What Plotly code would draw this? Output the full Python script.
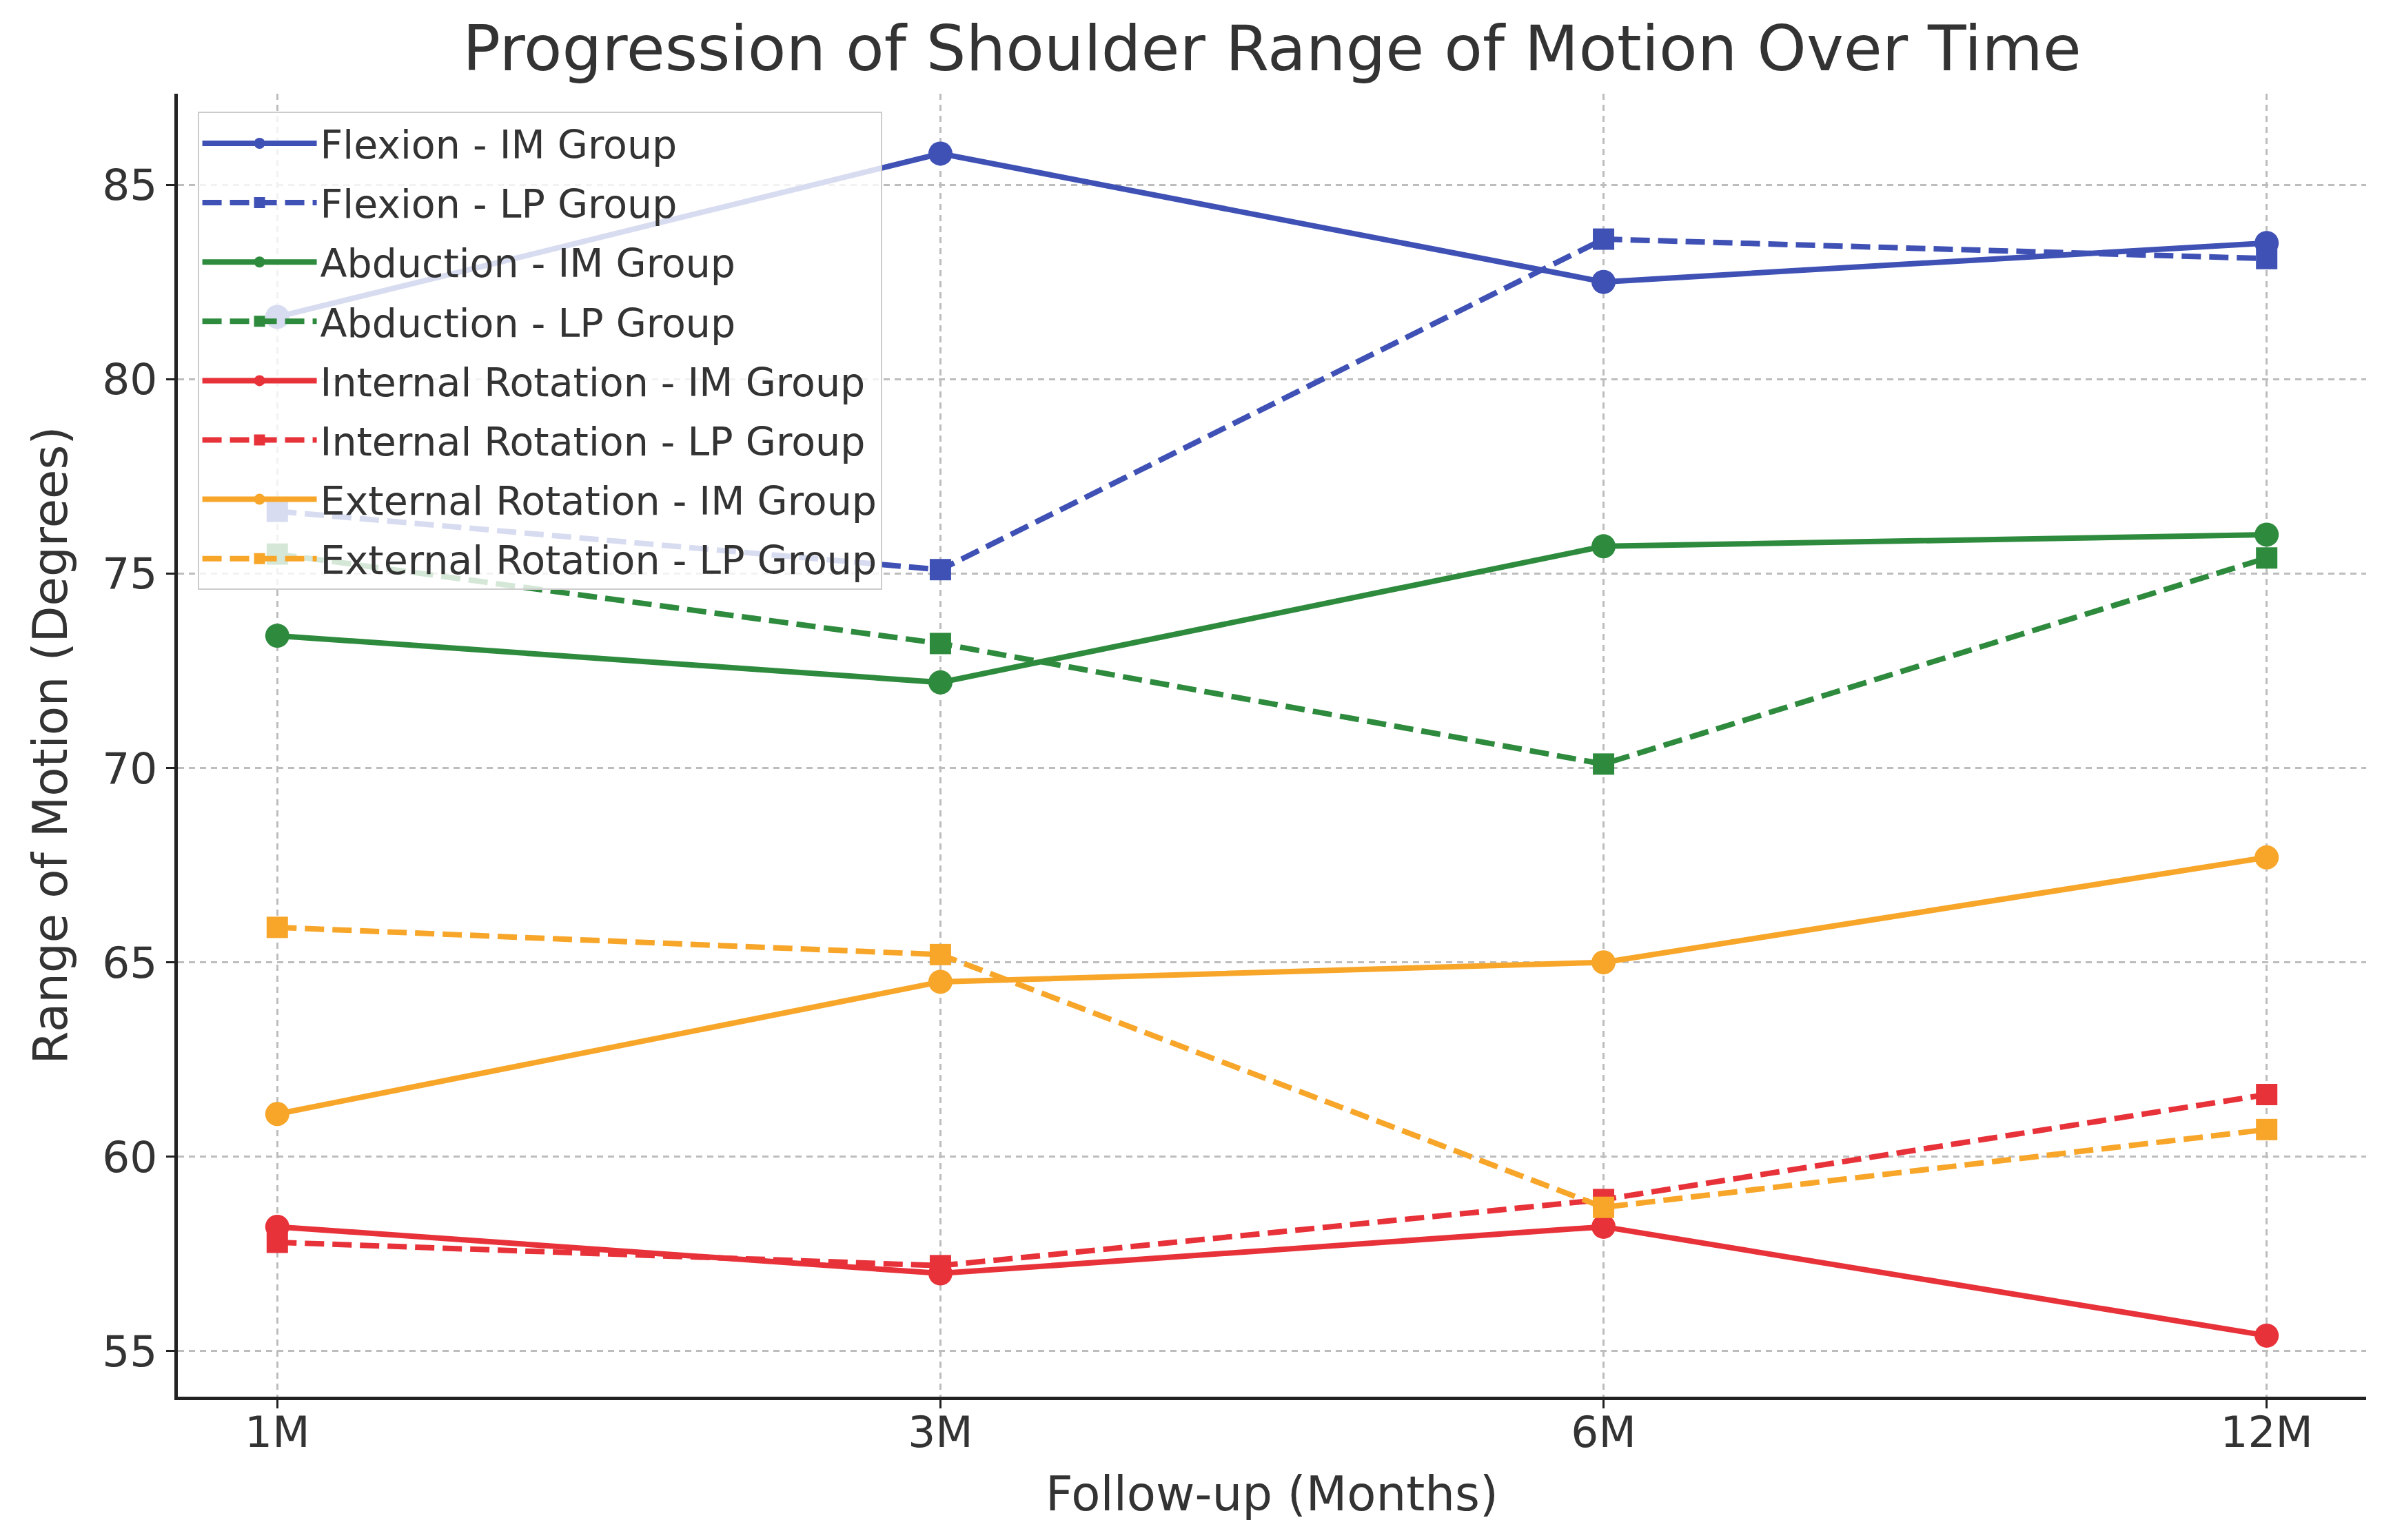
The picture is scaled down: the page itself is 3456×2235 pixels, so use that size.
import plotly.graph_objects as go

categories = ["1M", "3M", "6M", "12M"]

flexion_im = [81.6, 85.8, 82.5, 83.5]
flexion_lp = [76.6, 75.1, 83.6, 83.1]
abduction_im = [73.4, 72.2, 75.7, 76.0]
abduction_lp = [75.5, 73.2, 70.1, 75.4]
internal_im = [58.2, 57.0, 58.2, 55.4]
internal_lp = [57.8, 57.2, 58.9, 61.6]
external_im = [61.1, 64.5, 65.0, 67.7]
external_lp = [65.9, 65.2, 58.7, 60.7]

series = [
    ("Flexion - IM Group", flexion_im, "#3f51b5", "solid", "circle"),
    ("Flexion - LP Group", flexion_lp, "#3f51b5", "dash", "square"),
    ("Abduction - IM Group", abduction_im, "#2e8b3e", "solid", "circle"),
    ("Abduction - LP Group", abduction_lp, "#2e8b3e", "dash", "square"),
    ("Internal Rotation - IM Group", internal_im, "#e8323a", "solid", "circle"),
    ("Internal Rotation - LP Group", internal_lp, "#e8323a", "dash", "square"),
    ("External Rotation - IM Group", external_im, "#f7a62a", "solid", "circle"),
    ("External Rotation - LP Group", external_lp, "#f7a62a", "dash", "square"),
]

fig = go.Figure()
for i, (name, vals, color, dash, sym) in enumerate(series):
    fig.add_trace(go.Scatter(
        x=list(range(len(categories))), y=vals, name=name, mode="lines+markers",
        legendgroup="g%d" % i,
        line=dict(color=color, width=8, dash=("28px,12px" if dash == "dash" else "solid")),
        marker=dict(symbol=sym, size=35 if sym == "circle" else 31, color=color),
    ))

font_family = "DejaVu Sans"
text_color = "#333333"

fig.update_layout(
    width=3456, height=2235,
    margin=dict(l=250, r=31, t=128, b=216, autoexpand=False),
    paper_bgcolor="white", plot_bgcolor="white",
    font=dict(family=font_family, color=text_color, size=60),
    title=dict(text="Progression of Shoulder Range of Motion Over Time",
               x=0.5, xanchor="center", xref="paper", y=0.972, yanchor="middle", yref="container",
               font=dict(size=91, family=font_family, color=text_color)),
    legend=dict(x=0.009, y=0.986, xanchor="left", yanchor="top",
                bgcolor="rgba(255,255,255,0.8)", bordercolor="#cccccc", borderwidth=2,
                font=dict(size=57, family=font_family, color=text_color),
                itemwidth=166, tracegroupgap=9),
    showlegend=True,
)

fig.update_xaxes(
    range=[-0.15, 3.15], tickmode="array", tickvals=list(range(len(categories))), ticktext=categories,
    showline=True, linecolor="#222222", linewidth=5, mirror=False,
    ticks="outside", ticklen=12, tickwidth=3, tickcolor="#222222",
    showgrid=True, gridcolor="#bdbdbd", gridwidth=2.5, griddash="9px,7px",
    zeroline=False, automargin=False, ticklabelstandoff=-20,
    tickfont=dict(size=63, family=font_family, color=text_color),
    title=dict(text="Follow-up (Months)", font=dict(size=69, family=font_family, color=text_color), standoff=32),
)
fig.update_yaxes(
    range=[53.83, 87.34], tickvals=[55, 60, 65, 70, 75, 80, 85],
    showline=True, linecolor="#222222", linewidth=5, mirror=False,
    ticks="outside", ticklen=12, tickwidth=3, tickcolor="#222222",
    showgrid=True, gridcolor="#bdbdbd", gridwidth=2.5, griddash="9px,7px",
    zeroline=False, automargin=False,
    tickfont=dict(size=63, family=font_family, color=text_color),
    title=dict(text="Range of Motion (Degrees)", font=dict(size=69, family=font_family, color=text_color), standoff=30),
)

fig.write_html("out.html")
